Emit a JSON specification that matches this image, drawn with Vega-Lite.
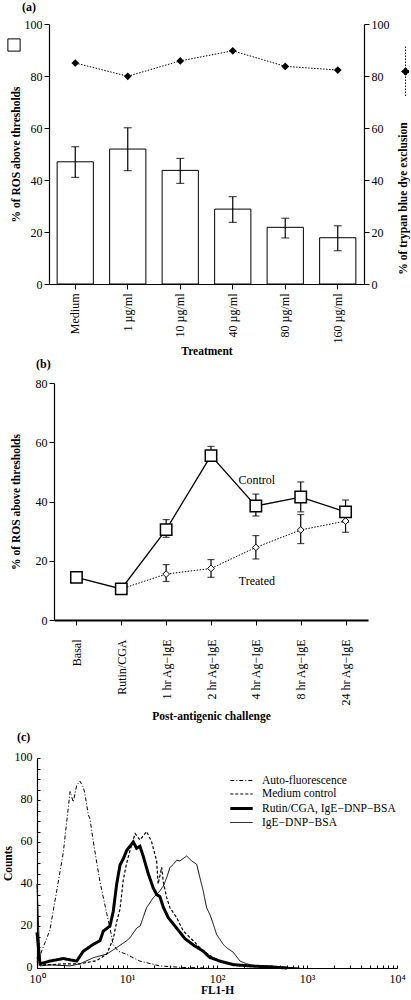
{
  "$schema": "https://vega.github.io/schema/vega-lite/v6.json",
  "background": "white",
  "padding": {"left": 2, "top": 1, "right": 0, "bottom": 0},
  "spacing": 0,
  "config": {
    "font": "Liberation Serif",
    "view": {"stroke": null},
    "axis": {
      "grid": false, "domainColor": "black", "tickColor": "black", "labelColor": "black", "titleColor": "black",
      "labelFont": "Liberation Serif", "titleFont": "Liberation Serif", "titleFontWeight": "bold",
      "labelFontSize": 12, "titleFontSize": 11.5, "tickSize": 5, "domainWidth": 1.2, "tickWidth": 1, "labelPadding": 2
    },
    "title": {"font": "Liberation Serif", "fontSize": 12, "fontWeight": "bold", "anchor": "start", "color": "black", "frame": "group"},
    "legend": {"labelFont": "Liberation Serif", "labelColor": "black"}
  },
  "datasets": {
    "a": [
      {"treatment": "Medium", "ros": 47, "lo": 41, "hi": 52.8, "trypan": 85},
      {"treatment": "1 µg/ml", "ros": 51.9, "lo": 43.6, "hi": 60.1, "trypan": 79.9},
      {"treatment": "10 µg/ml", "ros": 43.7, "lo": 38.7, "hi": 48.3, "trypan": 85.8},
      {"treatment": "40 µg/ml", "ros": 28.8, "lo": 23.7, "hi": 33.6, "trypan": 89.7},
      {"treatment": "80 µg/ml", "ros": 21.8, "lo": 17.7, "hi": 25.3, "trypan": 83.7},
      {"treatment": "160 µg/ml", "ros": 17.8, "lo": 12.8, "hi": 22.4, "trypan": 82.3}
    ],
    "b": [
      {"stage": "Basal", "group": "Control", "mean": 14.4},
      {"stage": "Rutin/CGA", "group": "Control", "mean": 10.5},
      {"stage": "1 hr Ag−IgE", "group": "Control", "mean": 30.5, "lo": 27.9, "hi": 33.9},
      {"stage": "2 hr Ag−IgE", "group": "Control", "mean": 55.5, "lo": 53.6, "hi": 58.6},
      {"stage": "4 hr Ag−IgE", "group": "Control", "mean": 38.5, "lo": 35.1, "hi": 42.5},
      {"stage": "8 hr Ag−IgE", "group": "Control", "mean": 41.5, "lo": 36.5, "hi": 46.6},
      {"stage": "24 hr Ag−IgE", "group": "Control", "mean": 36.5, "lo": 33, "hi": 40.5},
      {"stage": "Rutin/CGA", "group": "Treated", "mean": 10.5},
      {"stage": "1 hr Ag−IgE", "group": "Treated", "mean": 15.5, "lo": 13, "hi": 18.7},
      {"stage": "2 hr Ag−IgE", "group": "Treated", "mean": 17.4, "lo": 14.4, "hi": 20.4},
      {"stage": "4 hr Ag−IgE", "group": "Treated", "mean": 24.5, "lo": 20.6, "hi": 28.5},
      {"stage": "8 hr Ag−IgE", "group": "Treated", "mean": 30.4, "lo": 25.8, "hi": 35.6},
      {"stage": "24 hr Ag−IgE", "group": "Treated", "mean": 33.4, "lo": 29.6, "hi": 37}
    ],
    "blabels": [
      {"stage": "4 hr Ag−IgE", "mean": 47.3, "label": "Control"},
      {"stage": "4 hr Ag−IgE", "mean": 13.2, "label": "Treated"}
    ],
    "c": [
      {"series": "Auto-fluorescence", "fl": 1, "count": 3},
      {"series": "Auto-fluorescence", "fl": 1.08, "count": 6},
      {"series": "Auto-fluorescence", "fl": 1.39, "count": 18},
      {"series": "Auto-fluorescence", "fl": 1.66, "count": 37},
      {"series": "Auto-fluorescence", "fl": 1.96, "count": 55},
      {"series": "Auto-fluorescence", "fl": 2.33, "count": 84},
      {"series": "Auto-fluorescence", "fl": 2.53, "count": 79},
      {"series": "Auto-fluorescence", "fl": 2.76, "count": 87},
      {"series": "Auto-fluorescence", "fl": 3.0, "count": 89},
      {"series": "Auto-fluorescence", "fl": 3.27, "count": 86},
      {"series": "Auto-fluorescence", "fl": 3.41, "count": 83},
      {"series": "Auto-fluorescence", "fl": 3.71, "count": 73},
      {"series": "Auto-fluorescence", "fl": 3.88, "count": 71},
      {"series": "Auto-fluorescence", "fl": 4.23, "count": 60},
      {"series": "Auto-fluorescence", "fl": 5.01, "count": 41},
      {"series": "Auto-fluorescence", "fl": 5.95, "count": 26},
      {"series": "Auto-fluorescence", "fl": 6.47, "count": 19},
      {"series": "Auto-fluorescence", "fl": 7.04, "count": 11},
      {"series": "Auto-fluorescence", "fl": 8.0, "count": 8},
      {"series": "Auto-fluorescence", "fl": 9.9, "count": 6.5},
      {"series": "Auto-fluorescence", "fl": 13.9, "count": 3.3},
      {"series": "Auto-fluorescence", "fl": 23, "count": 1},
      {"series": "Auto-fluorescence", "fl": 40, "count": 0.3},
      {"series": "Auto-fluorescence", "fl": 80, "count": 0},
      {"series": "Medium control", "fl": 1, "count": 5},
      {"series": "Medium control", "fl": 1.08, "count": 2},
      {"series": "Medium control", "fl": 1.39, "count": 1.5},
      {"series": "Medium control", "fl": 1.96, "count": 2},
      {"series": "Medium control", "fl": 3.0, "count": 2},
      {"series": "Medium control", "fl": 4.6, "count": 3.5},
      {"series": "Medium control", "fl": 5.95, "count": 6.6},
      {"series": "Medium control", "fl": 7.04, "count": 14},
      {"series": "Medium control", "fl": 7.68, "count": 22},
      {"series": "Medium control", "fl": 8.36, "count": 28},
      {"series": "Medium control", "fl": 9.1, "count": 42},
      {"series": "Medium control", "fl": 9.92, "count": 50},
      {"series": "Medium control", "fl": 10.8, "count": 56},
      {"series": "Medium control", "fl": 12.3, "count": 64},
      {"series": "Medium control", "fl": 13.9, "count": 61},
      {"series": "Medium control", "fl": 15.2, "count": 63},
      {"series": "Medium control", "fl": 16.5, "count": 65},
      {"series": "Medium control", "fl": 18.8, "count": 60},
      {"series": "Medium control", "fl": 21.35, "count": 51},
      {"series": "Medium control", "fl": 22.2, "count": 40},
      {"series": "Medium control", "fl": 24.3, "count": 48},
      {"series": "Medium control", "fl": 25.3, "count": 41},
      {"series": "Medium control", "fl": 27.6, "count": 33.5},
      {"series": "Medium control", "fl": 30, "count": 28.7},
      {"series": "Medium control", "fl": 35.6, "count": 24},
      {"series": "Medium control", "fl": 42.2, "count": 17.6},
      {"series": "Medium control", "fl": 54.5, "count": 13},
      {"series": "Medium control", "fl": 70.3, "count": 8},
      {"series": "Medium control", "fl": 90.8, "count": 5},
      {"series": "Medium control", "fl": 107.7, "count": 3.3},
      {"series": "Medium control", "fl": 180, "count": 1},
      {"series": "Medium control", "fl": 300, "count": 0.5},
      {"series": "Medium control", "fl": 600, "count": 0},
      {"series": "Rutin/CGA, IgE−DNP−BSA", "fl": 1, "count": 17},
      {"series": "Rutin/CGA, IgE−DNP−BSA", "fl": 1.08, "count": 2},
      {"series": "Rutin/CGA, IgE−DNP−BSA", "fl": 1.39, "count": 3.3},
      {"series": "Rutin/CGA, IgE−DNP−BSA", "fl": 1.96, "count": 4.5},
      {"series": "Rutin/CGA, IgE−DNP−BSA", "fl": 2.76, "count": 3.3},
      {"series": "Rutin/CGA, IgE−DNP−BSA", "fl": 3.27, "count": 8},
      {"series": "Rutin/CGA, IgE−DNP−BSA", "fl": 4.23, "count": 11.3},
      {"series": "Rutin/CGA, IgE−DNP−BSA", "fl": 5.01, "count": 13},
      {"series": "Rutin/CGA, IgE−DNP−BSA", "fl": 5.46, "count": 17.6},
      {"series": "Rutin/CGA, IgE−DNP−BSA", "fl": 6.47, "count": 20},
      {"series": "Rutin/CGA, IgE−DNP−BSA", "fl": 7.04, "count": 27},
      {"series": "Rutin/CGA, IgE−DNP−BSA", "fl": 7.68, "count": 40},
      {"series": "Rutin/CGA, IgE−DNP−BSA", "fl": 8.36, "count": 49},
      {"series": "Rutin/CGA, IgE−DNP−BSA", "fl": 9.1, "count": 52},
      {"series": "Rutin/CGA, IgE−DNP−BSA", "fl": 9.92, "count": 56},
      {"series": "Rutin/CGA, IgE−DNP−BSA", "fl": 10.8, "count": 58},
      {"series": "Rutin/CGA, IgE−DNP−BSA", "fl": 11.75, "count": 60},
      {"series": "Rutin/CGA, IgE−DNP−BSA", "fl": 12.8, "count": 57},
      {"series": "Rutin/CGA, IgE−DNP−BSA", "fl": 13.9, "count": 58},
      {"series": "Rutin/CGA, IgE−DNP−BSA", "fl": 15.2, "count": 53},
      {"series": "Rutin/CGA, IgE−DNP−BSA", "fl": 17.2, "count": 45},
      {"series": "Rutin/CGA, IgE−DNP−BSA", "fl": 19.6, "count": 38},
      {"series": "Rutin/CGA, IgE−DNP−BSA", "fl": 21.35, "count": 35},
      {"series": "Rutin/CGA, IgE−DNP−BSA", "fl": 23.2, "count": 34},
      {"series": "Rutin/CGA, IgE−DNP−BSA", "fl": 25.3, "count": 29},
      {"series": "Rutin/CGA, IgE−DNP−BSA", "fl": 28.7, "count": 24},
      {"series": "Rutin/CGA, IgE−DNP−BSA", "fl": 35.6, "count": 19},
      {"series": "Rutin/CGA, IgE−DNP−BSA", "fl": 44, "count": 14},
      {"series": "Rutin/CGA, IgE−DNP−BSA", "fl": 54.5, "count": 11},
      {"series": "Rutin/CGA, IgE−DNP−BSA", "fl": 70.3, "count": 8},
      {"series": "Rutin/CGA, IgE−DNP−BSA", "fl": 83.4, "count": 5},
      {"series": "Rutin/CGA, IgE−DNP−BSA", "fl": 107.7, "count": 3.3},
      {"series": "Rutin/CGA, IgE−DNP−BSA", "fl": 151.5, "count": 1.6},
      {"series": "Rutin/CGA, IgE−DNP−BSA", "fl": 233, "count": 1},
      {"series": "Rutin/CGA, IgE−DNP−BSA", "fl": 390, "count": 0.5},
      {"series": "Rutin/CGA, IgE−DNP−BSA", "fl": 600, "count": 0},
      {"series": "IgE−DNP−BSA", "fl": 1, "count": 40},
      {"series": "IgE−DNP−BSA", "fl": 1.08, "count": 1},
      {"series": "IgE−DNP−BSA", "fl": 1.39, "count": 1.5},
      {"series": "IgE−DNP−BSA", "fl": 2.33, "count": 1},
      {"series": "IgE−DNP−BSA", "fl": 3.0, "count": 2},
      {"series": "IgE−DNP−BSA", "fl": 4.23, "count": 4.9},
      {"series": "IgE−DNP−BSA", "fl": 5.95, "count": 6.6},
      {"series": "IgE−DNP−BSA", "fl": 7.68, "count": 9.7},
      {"series": "IgE−DNP−BSA", "fl": 9.92, "count": 13},
      {"series": "IgE−DNP−BSA", "fl": 10.8, "count": 14.4},
      {"series": "IgE−DNP−BSA", "fl": 12.8, "count": 19},
      {"series": "IgE−DNP−BSA", "fl": 14, "count": 20},
      {"series": "IgE−DNP−BSA", "fl": 16.5, "count": 28.7},
      {"series": "IgE−DNP−BSA", "fl": 19.6, "count": 33.5},
      {"series": "IgE−DNP−BSA", "fl": 23.2, "count": 36.7},
      {"series": "IgE−DNP−BSA", "fl": 25.3, "count": 39},
      {"series": "IgE−DNP−BSA", "fl": 27.6, "count": 43},
      {"series": "IgE−DNP−BSA", "fl": 30, "count": 47.8},
      {"series": "IgE−DNP−BSA", "fl": 32.7, "count": 49.4},
      {"series": "IgE−DNP−BSA", "fl": 35.6, "count": 51.3},
      {"series": "IgE−DNP−BSA", "fl": 38.7, "count": 51},
      {"series": "IgE−DNP−BSA", "fl": 46, "count": 53.3},
      {"series": "IgE−DNP−BSA", "fl": 52.3, "count": 51},
      {"series": "IgE−DNP−BSA", "fl": 59.4, "count": 49.4},
      {"series": "IgE−DNP−BSA", "fl": 64.6, "count": 43},
      {"series": "IgE−DNP−BSA", "fl": 70.3, "count": 36.7},
      {"series": "IgE−DNP−BSA", "fl": 76.6, "count": 28.7},
      {"series": "IgE−DNP−BSA", "fl": 83.4, "count": 25.5},
      {"series": "IgE−DNP−BSA", "fl": 90.8, "count": 21},
      {"series": "IgE−DNP−BSA", "fl": 98.9, "count": 16},
      {"series": "IgE−DNP−BSA", "fl": 117, "count": 11.3},
      {"series": "IgE−DNP−BSA", "fl": 127.6, "count": 9.7},
      {"series": "IgE−DNP−BSA", "fl": 151.5, "count": 7.5},
      {"series": "IgE−DNP−BSA", "fl": 180, "count": 3.3},
      {"series": "IgE−DNP−BSA", "fl": 214.5, "count": 2},
      {"series": "IgE−DNP−BSA", "fl": 260, "count": 1},
      {"series": "IgE−DNP−BSA", "fl": 390, "count": 1},
      {"series": "IgE−DNP−BSA", "fl": 500, "count": 0.5},
      {"series": "IgE−DNP−BSA", "fl": 830, "count": 0}
    ]
  },
  "vconcat": [
    {
      "title": {"text": "(a)", "dx": -15, "offset": 4},
      "width": 327,
      "height": 260,
      "data": {"name": "a"},
      "layer": [
        {
          "layer": [
            {
              "mark": {"type": "bar", "stroke": "black", "strokeWidth": 1},
              "encoding": {
                "x": {"field": "treatment", "type": "nominal", "sort": null,
                  "scale": {"range": [12, 327], "paddingInner": 0.31, "paddingOuter": 0.155},
                  "axis": {"title": "Treatment", "labelAngle": -90, "labelPadding": 4, "titlePadding": 3, "labelFontSize": 12}},
                "y": {"field": "ros", "type": "quantitative", "scale": {"domain": [0, 100], "nice": false},
                  "axis": {"values": [0, 10, 20, 30, 40, 50, 60, 70, 80, 90, 100], "title": "% of ROS above thresholds", "offset": -12, "titlePadding": 3}},
                "fill": {"datum": "ROS", "scale": {"range": ["white"]},
                  "legend": {"orient": "none", "legendX": -30, "legendY": 14, "title": null, "labelExpr": "''", "symbolType": "square", "symbolSize": 150, "symbolStrokeColor": "black", "symbolStrokeWidth": 1, "padding": 0}}
              }
            },
            {
              "mark": {"type": "rule", "color": "black", "strokeWidth": 1.2},
              "encoding": {
                "x": {"field": "treatment", "type": "nominal", "sort": null},
                "y": {"field": "lo", "type": "quantitative"},
                "y2": {"field": "hi"}
              }
            },
            {
              "mark": {"type": "tick", "color": "black", "size": 8, "thickness": 1.2, "orient": "horizontal"},
              "encoding": {
                "x": {"field": "treatment", "type": "nominal", "sort": null},
                "y": {"field": "hi", "type": "quantitative"}
              }
            },
            {
              "mark": {"type": "tick", "color": "black", "size": 8, "thickness": 1.2, "orient": "horizontal"},
              "encoding": {
                "x": {"field": "treatment", "type": "nominal", "sort": null},
                "y": {"field": "lo", "type": "quantitative"}
              }
            }
          ]
        },
        {
          "layer": [
            {
              "mark": {"type": "line", "color": "black", "strokeWidth": 1, "strokeDash": [1.5, 1.5]},
              "encoding": {
                "x": {"field": "treatment", "type": "nominal", "sort": null},
                "y": {"field": "trypan", "type": "quantitative", "scale": {"domain": [0, 100], "nice": false},
                  "axis": {"orient": "right", "values": [0, 10, 20, 30, 40, 50, 60, 70, 80, 90, 100], "title": "% of trypan blue dye exclusion", "titleAngle": 270, "titleY": 174, "titlePadding": 19}}
              }
            },
            {
              "mark": {"type": "point", "shape": "diamond", "filled": true, "size": 60, "opacity": 1},
              "encoding": {
                "x": {"field": "treatment", "type": "nominal", "sort": null},
                "y": {"field": "trypan", "type": "quantitative"},
                "color": {"datum": "Trypan", "scale": {"range": ["black"]},
                  "legend": {"orient": "none", "legendX": 343, "legendY": 22, "title": null, "labelExpr": "''", "symbolType": "M0,-1L0,1M-0.16,0L0,-0.16L0.16,0L0,0.16Z", "symbolSize": 2500, "symbolStrokeColor": "black", "symbolStrokeWidth": 1, "symbolDash": [1.5, 1.5], "symbolOpacity": 1, "padding": 0}}
              }
            }
          ]
        }
      ],
      "resolve": {"scale": {"y": "independent"}}
    },
    {
      "title": {"text": "(b)", "dx": -1, "offset": 6},
      "width": 331,
      "height": 237,
      "layer": [
        {
          "data": {"name": "b"},
          "transform": [{"filter": "datum.group == 'Control'"}],
          "mark": {"type": "line", "color": "black", "strokeWidth": 1.3},
          "encoding": {
            "x": {"field": "stage", "type": "nominal",
              "scale": {"type": "point", "domain": ["Basal", "Rutin/CGA", "1 hr Ag−IgE", "2 hr Ag−IgE", "4 hr Ag−IgE", "8 hr Ag−IgE", "24 hr Ag−IgE"], "range": [17, 331], "padding": 0.5},
              "axis": {"title": "Post-antigenic challenge", "labelAngle": -90, "labelPadding": 14, "titlePadding": 5, "labelFontSize": 12, "domainWidth": 2}},
            "y": {"field": "mean", "type": "quantitative", "scale": {"domain": [0, 80], "nice": false},
              "axis": {"values": [0, 20, 40, 60, 80], "title": "% of ROS above thresholds", "offset": -17, "titlePadding": 14}}
          }
        },
        {
          "data": {"name": "b"},
          "transform": [{"filter": "datum.group == 'Treated'"}],
          "mark": {"type": "line", "color": "black", "strokeWidth": 1, "strokeDash": [1.5, 1.5]},
          "encoding": {
            "x": {"field": "stage", "type": "nominal"},
            "y": {"field": "mean", "type": "quantitative"}
          }
        },
        {
          "data": {"name": "b"},
          "transform": [{"filter": "isValid(datum.lo)"}],
          "mark": {"type": "rule", "color": "black", "strokeWidth": 1.2},
          "encoding": {
            "x": {"field": "stage", "type": "nominal"},
            "y": {"field": "lo", "type": "quantitative"},
            "y2": {"field": "hi"}
          }
        },
        {
          "data": {"name": "b"},
          "transform": [{"filter": "isValid(datum.lo)"}],
          "mark": {"type": "tick", "color": "black", "size": 7, "thickness": 1.2, "orient": "horizontal"},
          "encoding": {
            "x": {"field": "stage", "type": "nominal"},
            "y": {"field": "hi", "type": "quantitative"}
          }
        },
        {
          "data": {"name": "b"},
          "transform": [{"filter": "isValid(datum.lo)"}],
          "mark": {"type": "tick", "color": "black", "size": 7, "thickness": 1.2, "orient": "horizontal"},
          "encoding": {
            "x": {"field": "stage", "type": "nominal"},
            "y": {"field": "lo", "type": "quantitative"}
          }
        },
        {
          "data": {"name": "b"},
          "transform": [{"filter": "datum.group == 'Treated' && datum.stage != 'Rutin/CGA'"}],
          "mark": {"type": "point", "shape": "diamond", "filled": true, "fill": "white", "stroke": "black", "strokeWidth": 1, "size": 45, "opacity": 1},
          "encoding": {
            "x": {"field": "stage", "type": "nominal"},
            "y": {"field": "mean", "type": "quantitative"}
          }
        },
        {
          "data": {"name": "b"},
          "transform": [{"filter": "datum.group == 'Control'"}],
          "mark": {"type": "point", "shape": "square", "filled": true, "fill": "white", "stroke": "black", "strokeWidth": 1.5, "size": 130, "opacity": 1},
          "encoding": {
            "x": {"field": "stage", "type": "nominal"},
            "y": {"field": "mean", "type": "quantitative"}
          }
        },
        {
          "data": {"name": "blabels"},
          "mark": {"type": "text", "fontSize": 12, "font": "Liberation Serif", "color": "black", "dx": 1},
          "encoding": {
            "x": {"field": "stage", "type": "nominal"},
            "y": {"field": "mean", "type": "quantitative"},
            "text": {"field": "label"}
          }
        }
      ]
    },
    {
      "title": {"text": ["", "(c)"], "dx": -20, "offset": 6, "lineHeight": 8},
      "width": 360,
      "height": 210,
      "data": {"name": "c"},
      "mark": {"type": "line", "color": "black"},
      "encoding": {
        "x": {"field": "fl", "type": "quantitative",
          "scale": {"type": "log", "domain": [1, 10000], "nice": false},
          "axis": {"title": "FL1-H", "values": [1, 2, 3, 4, 5, 6, 7, 8, 9, 10, 20, 30, 40, 50, 60, 70, 80, 90, 100, 200, 300, 400, 500, 600, 700, 800, 900, 1000, 2000, 3000, 4000, 5000, 6000, 7000, 8000, 9000, 10000],
            "labelExpr": "abs(log(datum.value)/LN10 - round(log(datum.value)/LN10)) < 0.000001 ? '10' + ['⁰','¹','²','³','⁴'][round(log(datum.value)/LN10)] : ''",
            "labelFlush": false, "labelOverlap": false, "tickSize": -3, "labelPadding": 8, "titlePadding": 0}},
        "y": {"field": "count", "type": "quantitative", "scale": {"domain": [0, 100], "nice": false},
          "axis": {"title": "Counts", "values": [0, 5, 10, 15, 20, 25, 30, 35, 40, 45, 50, 55, 60, 65, 70, 75, 80, 85, 90, 95, 100],
            "labelExpr": "datum.value % 20 == 0 ? datum.label : ''", "labelOverlap": false, "tickSize": -3, "labelPadding": 8, "labelOffset": -2, "titlePadding": 1}},
        "strokeDash": {"field": "series", "type": "nominal",
          "scale": {"domain": ["Auto-fluorescence", "Medium control", "Rutin/CGA, IgE−DNP−BSA", "IgE−DNP−BSA"], "range": [[4, 2, 1, 2], [3, 2], [1, 0], [1, 0]]},
          "legend": {"orient": "none", "legendX": 196, "legendY": 749, "title": null, "symbolType": "M-1.6,0L1.6,0", "symbolSize": 196, "symbolStrokeColor": "black", "labelFontSize": 11.5, "rowPadding": 0, "padding": 0, "labelOffset": 12}},
        "strokeWidth": {"field": "series", "type": "nominal",
          "scale": {"type": "ordinal", "domain": ["Auto-fluorescence", "Medium control", "Rutin/CGA, IgE−DNP−BSA", "IgE−DNP−BSA"], "range": [1, 1.2, 3, 1]},
          "legend": {"orient": "none", "legendX": 196, "legendY": 749, "title": null, "symbolType": "M-1.6,0L1.6,0", "symbolSize": 196, "symbolStrokeColor": "black", "labelFontSize": 11.5, "rowPadding": 0, "padding": 0, "labelOffset": 12}}
      }
    }
  ]
}
